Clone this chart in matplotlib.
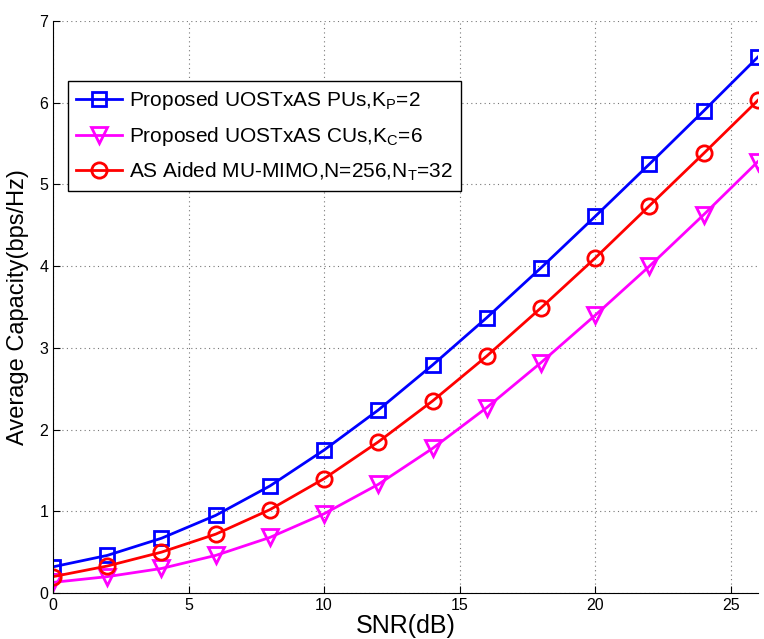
import matplotlib
matplotlib.use("Agg")
import matplotlib.pyplot as plt

plt.rcParams['font.family'] = ['Liberation Sans', 'DejaVu Sans']
plt.rcParams['mathtext.fontset'] = 'custom'
plt.rcParams['mathtext.rm'] = 'Liberation Sans'

snr = [0, 2, 4, 6, 8, 10, 12, 14, 16, 18, 20, 22, 24, 26]
pu = [0.32, 0.46, 0.67, 0.95, 1.31, 1.75, 2.24, 2.79, 3.37, 3.98, 4.61, 5.25, 5.90, 6.56]
cu = [0.13, 0.20, 0.30, 0.46, 0.68, 0.97, 1.33, 1.77, 2.27, 2.82, 3.40, 4.00, 4.63, 5.28]
asmimo = [0.20, 0.33, 0.50, 0.72, 1.02, 1.40, 1.85, 2.35, 2.90, 3.49, 4.10, 4.74, 5.38, 6.03]

labels = ['Proposed UOSTxAS PUs,K$_\\mathregular{P}$=2',
          'Proposed UOSTxAS CUs,K$_\\mathregular{C}$=6',
          'AS Aided MU-MIMO,N=256,N$_\\mathregular{T}$=32']

fig = plt.figure(figsize=(7.64, 6.39), dpi=100)
ax = fig.add_axes([0.0694, 0.072, 0.9226, 0.895])

ax.plot(snr, pu, color='#0000ff', lw=2, marker='s', ms=10, mfc='none', mew=2, label=labels[0])
ax.plot(snr, cu, color='#ff00ff', lw=2, marker='v', ms=11, mfc='none', mew=2, label=labels[1])
ax.plot(snr, asmimo, color='#ff0000', lw=2, marker='o', ms=11, mfc='none', mew=2, label=labels[2])

ax.set_xlim(0, 26)
ax.set_ylim(0, 7)
ax.set_xticks([0, 5, 10, 15, 20, 25])
ax.set_yticks(range(0, 8))
ax.grid(True, linestyle=(0, (1, 3)), color='#777777', lw=0.8)
ax.tick_params(direction='in', labelsize=11.5, length=5)
for s in ['top', 'right']:
    ax.spines[s].set_visible(False)
ax.set_xlabel('SNR(dB)', fontsize=18, labelpad=1)
ax.set_ylabel('Average Capacity(bps/Hz)', fontsize=17, labelpad=7)

leg = ax.legend(loc='upper left', bbox_to_anchor=(0.021, 0.895), fontsize=15,
                frameon=True, fancybox=False, edgecolor='black', framealpha=1,
                handlelength=2.2, borderaxespad=0, labelspacing=0.6, borderpad=0.4,
                handletextpad=0.35)
leg.get_frame().set_linewidth(1)

fig.savefig('out.png', dpi=100)
